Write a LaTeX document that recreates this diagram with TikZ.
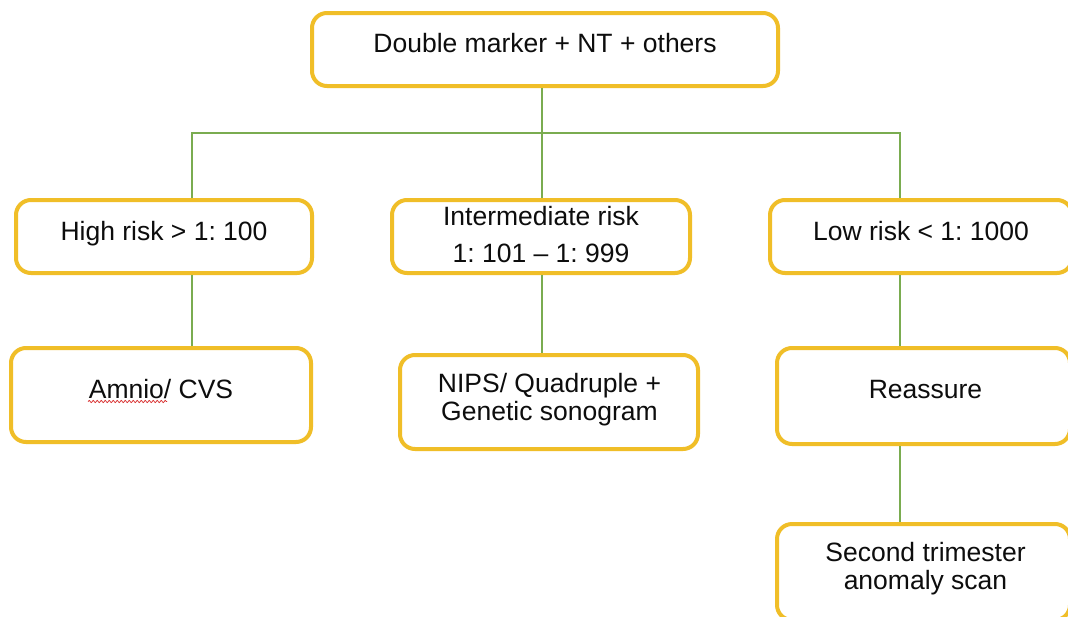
\documentclass[tikz,border=0pt]{standalone}
\usepackage{fontspec}
\setmainfont{Liberation Sans}
\usetikzlibrary{decorations.pathmorphing}
\definecolor{boxgold}{RGB}{240,190,40}
\definecolor{linkgreen}{RGB}{122,172,80}
\definecolor{spellred}{RGB}{215,40,40}
\frenchspacing
\begin{document}
\begin{tikzpicture}[x=1pt,y=-1pt,
  box/.style={draw=boxgold, line width=4pt, rounded corners=15pt, fill=white, inner sep=0pt},
  txt/.style={font=\fontsize{26.5}{28}\selectfont, inner sep=0pt, align=center, text=black!95},
  link/.style={draw=linkgreen, line width=2pt},
  squiggle/.style={draw=spellred, line width=0.7pt, decorate,
    decoration={snake, amplitude=1.1pt, segment length=4pt}}]
\clip (0,0) rectangle (1068,616);
\fill[white] (0,0) rectangle (1068,616);

% boxes
\node[box, minimum width=466pt, minimum height=73pt] (top) at (545,49.5) {};
\node[box, minimum width=296pt, minimum height=73pt] (hi) at (164,236.5) {};
\node[box, minimum width=298pt, minimum height=73pt] (mid) at (541,236.5) {};
\node[box, minimum width=302pt, minimum height=73pt] (lo) at (921,236.5) {};
\node[box, minimum width=300pt, minimum height=94pt] (amnio) at (161,395) {};
\node[box, minimum width=298pt, minimum height=94pt] (nips) at (549,402) {};
\node[box, minimum width=293pt, minimum height=96pt] (reassure) at (923.5,396) {};
\node[box, minimum width=293pt, minimum height=96pt] (second) at (923.5,572) {};

% texts
\node[txt, anchor=base] (top-t) at (545,52) {Double marker + NT + others};
\node[txt, anchor=base] (hi-t) at (164,240) {High risk > 1: 100};
\node[txt] (mid-t) at (541,234.7) {Intermediate risk\\[9pt]1: 101 – 1: 999};
\node[txt, anchor=base] (lo-t) at (921,240) {Low risk < 1: 1000};
\node[txt, anchor=base] (amnio-t) at (161,398) {Amnio/ CVS};
\node[txt] (nips-t) at (549.5,399.2) {NIPS/ Quadruple +\\Genetic sonogram};
\node[txt, anchor=base] (reassure-t) at (925.5,398) {Reassure};
\node[txt] (second-t) at (925.5,568.2) {Second trimester\\anomaly scan};

% spelling underline under "Amnio"
\draw[squiggle] (88,401.5) -- (167,401.5);

% connectors
\coordinate (jl) at (192,133);
\coordinate (jm) at (542,133);
\coordinate (jr) at (900,133);
\draw[link] (hi.north -| jl) -- (jl) -- (jr) -- (lo.north -| jr);
\draw[link] (top.south -| jm) -- (mid.north -| jm);
\draw[link] (hi.south -| jl) -- (amnio.north -| jl);
\draw[link] (mid.south -| jm) -- (nips.north -| jm);
\draw[link] (lo.south -| jr) -- (reassure.north -| jr);
\draw[link] (reassure.south -| jr) -- (second.north -| jr);
\end{tikzpicture}
\end{document}
